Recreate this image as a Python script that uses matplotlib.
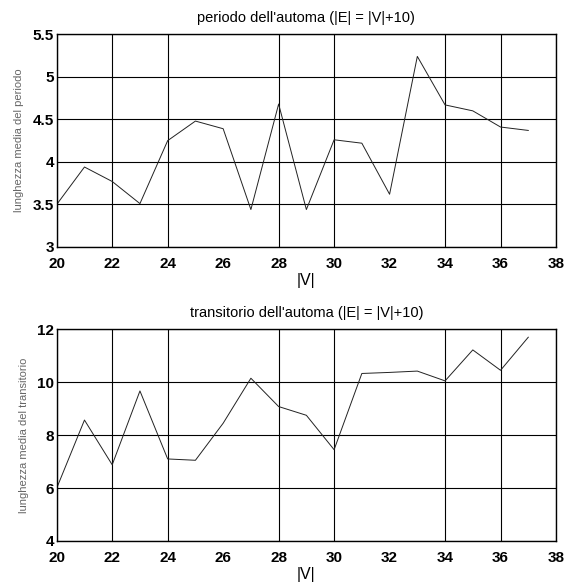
import matplotlib
matplotlib.use('Agg')
import matplotlib.pyplot as plt

plt.rcParams['font.family'] = ['Liberation Sans', 'DejaVu Sans']

# numero di vertici |V|
vertici = [20, 21, 22, 23, 24, 25, 26, 27, 28, 29, 30, 31, 32, 33, 34, 35, 36, 37]

# lunghezza media del periodo
periodo = [3.50, 3.94, 3.77, 3.51, 4.25, 4.48, 4.39, 3.44, 4.68, 3.44,
           4.26, 4.22, 3.62, 5.24, 4.67, 4.60, 4.41, 4.37]

# lunghezza media del transitorio
transitorio = [6.00, 8.57, 6.88, 9.67, 7.10, 7.05, 8.45, 10.15, 9.08, 8.75,
               7.45, 10.33, 10.37, 10.42, 10.05, 11.22, 10.45, 11.70]

xticks = [20, 22, 24, 26, 28, 30, 32, 34, 36, 38]

fig = plt.figure(figsize=(5.65, 5.86), dpi=100)
ax1 = fig.add_axes([0.1004, 0.5785, 0.8837, 0.363])
ax2 = fig.add_axes([0.1004, 0.0768, 0.8837, 0.3613])


def setup(ax, y, ylim, yticks, ylabels, title, ylabel):
    ax.plot(vertici, y, color='#222222', lw=0.7)
    ax.set_xlim(20, 38)
    ax.set_ylim(*ylim)
    ax.set_xticks(xticks)
    ax.set_yticks(yticks)
    ax.set_xticklabels([str(t) for t in xticks], fontsize=11, fontweight='bold')
    ax.set_yticklabels(ylabels, fontsize=11, fontweight='bold')
    ax.tick_params(length=0)
    ax.tick_params(axis='x', pad=7)
    ax.tick_params(axis='y', pad=2)
    ax.grid(True, color='black', lw=0.8)
    # le linee a 26 e 32 non compaiono
    for t, gl in zip(xticks, ax.get_xgridlines()):
        if t in (26, 32):
            gl.set_visible(False)
    for s in ax.spines.values():
        s.set_linewidth(1.0)
    ax.set_title(title, fontsize=10.5, pad=9)
    ax.set_ylabel(ylabel, fontsize=8, color='#666666', labelpad=6)
    ax.set_xlabel('|V|', fontsize=11.5, labelpad=2)


setup(ax1, periodo, (3, 5.5), [3, 3.5, 4, 4.5, 5, 5.5],
      ['3', '3.5', '4', '4.5', '5', '5.5'],
      "periodo dell'automa (|E| = |V|+10)", 'lunghezza media del periodo')

setup(ax2, transitorio, (4, 12), [4, 6, 8, 10, 12],
      ['4', '6', '8', '10', '12'],
      "transitorio dell'automa (|E| = |V|+10)", 'lunghezza media del transitorio')

fig.savefig('out.png', dpi=100)
